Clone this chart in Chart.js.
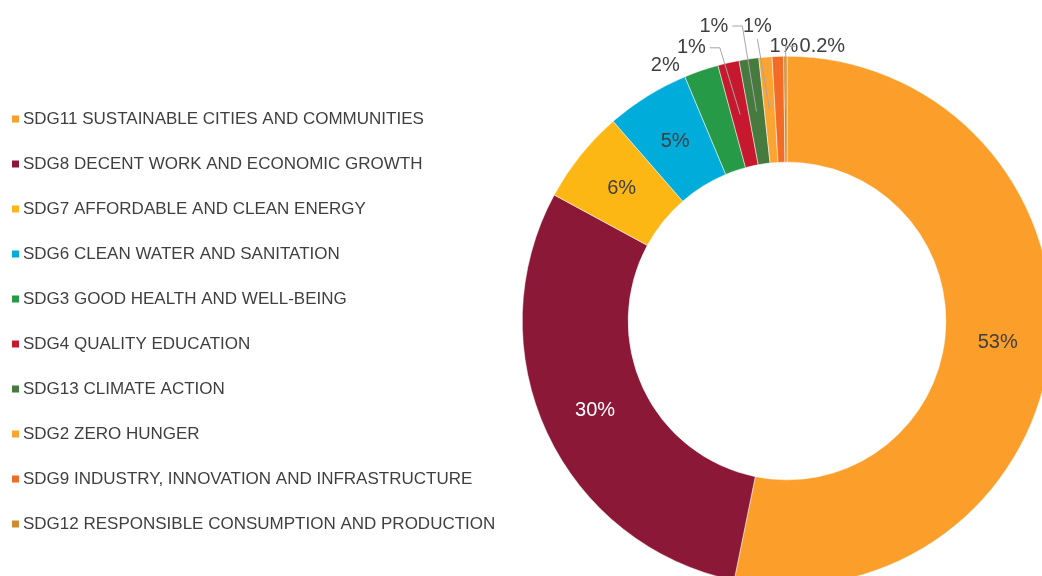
<!DOCTYPE html>
<html>
<head>
<meta charset="utf-8">
<script src="https://cdn.jsdelivr.net/npm/chart.js@4/dist/chart.umd.min.js"></script>
<style>
  html, body { margin: 0; padding: 0; overflow: hidden; background: #fff; }
  #wrap { position: absolute; left: 0; top: 0; width: 1060px; height: 600px; }
</style>
</head>
<body>
<div id="wrap"><canvas id="sdgChart" width="1060" height="600"></canvas></div>
<script>
const categories = [
    "SDG11 SUSTAINABLE CITIES AND COMMUNITIES",
    "SDG8 DECENT WORK AND ECONOMIC GROWTH",
    "SDG7 AFFORDABLE AND CLEAN ENERGY",
    "SDG6 CLEAN WATER AND SANITATION",
    "SDG3 GOOD HEALTH AND WELL-BEING",
    "SDG4 QUALITY EDUCATION",
    "SDG13 CLIMATE ACTION",
    "SDG2 ZERO HUNGER",
    "SDG9 INDUSTRY, INNOVATION AND INFRASTRUCTURE",
    "SDG12 RESPONSIBLE CONSUMPTION AND PRODUCTION",
];
const shares = [53.2, 29.7, 5.7, 5.1, 2.1, 1.3, 1.2, 0.8, 0.7, 0.2];
const colors = [
    "#fb9f2a", "#8c1838", "#fdb714", "#00acd9", "#279a48",
    "#c6192e", "#467a3e", "#fca431", "#f36c25", "#cf8c2c",
];

// where each percentage label goes (inside the ring, or outside with an offset)
const labelStyle = [
    { mode: "in" },
    { mode: "in", color: "#ffffff" },
    { mode: "in" },
    { mode: "in" },
    { mode: "out", dx: -36, dy: -5 },
    { mode: "out", dx: -37, dy: -15, leader: "right" },
    { mode: "out", dx: -35, dy: -33, leader: "right" },
    { mode: "out", dx: -8, dy: -31, leader: "bottom" },
    { mode: "out", dx: 6, dy: -10 },
    { mode: "out", dx: 37, dy: -10, leader: "left" },
];

const textColor = "#3f3f3f";
const fontFamily = "'Liberation Sans', Arial, sans-serif";

function pctText(v, total) {
    const p = (v / total) * 100;
    return p < 0.5 ? p.toFixed(1) + "%" : Math.round(p) + "%";
}

const sideLegend = {
    id: "sideLegend",
    afterDraw(chart) {
        const ctx = chart.ctx;
        ctx.save();
        ctx.font = "17px " + fontFamily;
        ctx.textBaseline = "middle";
        ctx.textAlign = "left";
        categories.forEach((name, i) => {
            const y = 119 + 45 * i;
            ctx.fillStyle = colors[i];
            ctx.fillRect(12, y - 3.5, 7, 7);
            ctx.fillStyle = textColor;
            ctx.fillText(name, 23, y);
        });
        ctx.restore();
    },
};

const sliceLabels = {
    id: "sliceLabels",
    afterDatasetsDraw(chart) {
        const ctx = chart.ctx;
        const meta = chart.getDatasetMeta(0);
        const total = shares.reduce((a, b) => a + b, 0);
        ctx.save();
        ctx.font = "20px " + fontFamily;
        ctx.textBaseline = "middle";
        ctx.textAlign = "center";
        meta.data.forEach((arc, i) => {
            const { x, y, startAngle, endAngle, innerRadius, outerRadius } =
                arc.getProps(["x", "y", "startAngle", "endAngle", "innerRadius", "outerRadius"], true);
            const mid = (startAngle + endAngle) / 2;
            const midR = (innerRadius + outerRadius) / 2;
            const inX = x + Math.cos(mid) * midR;
            const inY = y + Math.sin(mid) * midR;
            const st = labelStyle[i];
            const txt = pctText(shares[i], total);
            let cx = inX, cy = inY;
            if (st.mode === "out") {
                cx = x + Math.cos(mid) * outerRadius + st.dx;
                cy = y + Math.sin(mid) * outerRadius + st.dy;
                const w = ctx.measureText(txt).width;
                if (st.leader) {
                    ctx.strokeStyle = "#a6a6a6";
                    ctx.lineWidth = 1;
                    ctx.beginPath();
                    if (st.leader === "right") {
                        ctx.moveTo(cx + w / 2 + 4, cy);
                        ctx.lineTo(cx + w / 2 + 14, cy);
                    } else if (st.leader === "left") {
                        ctx.moveTo(cx - w / 2 - 4, cy);
                        ctx.lineTo(inX, cy);
                    } else {
                        ctx.moveTo(cx, cy + 13);
                    }
                    ctx.lineTo(inX, inY);
                    ctx.stroke();
                }
            }
            ctx.fillStyle = st.color || textColor;
            ctx.fillText(txt, cx, cy);
        });
        ctx.restore();
    },
};

new Chart(document.getElementById("sdgChart"), {
    type: "doughnut",
    data: {
        labels: categories,
        datasets: [
            {
                data: shares,
                backgroundColor: colors,
                borderColor: "#ffffff",
                borderWidth: 0.5,
            },
        ],
    },
    options: {
        responsive: false,
        animation: false,
        cutout: "60%",
        layout: {
            padding: { left: 522, top: 56, right: 8, bottom: 14 },
        },
        plugins: {
            legend: { display: false },
            tooltip: { enabled: false },
        },
    },
    plugins: [sliceLabels, sideLegend],
});
</script>
</body>
</html>
